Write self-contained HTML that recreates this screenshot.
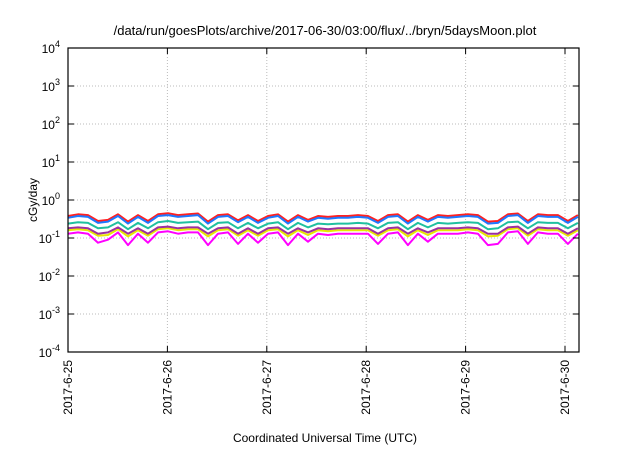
<!DOCTYPE html>
<html><head><meta charset="utf-8"><style>
body{margin:0;background:#fff;}
svg{font-family:"Liberation Sans",sans-serif;}
</style></head><body>
<svg id="c" width="640" height="448">
<text x="325" y="35" font-size="13" text-anchor="middle">/data/run/goesPlots/archive/2017-06-30/03:00/flux/../bryn/5daysMoon.plot</text>
<text transform="translate(37,200) rotate(-90)" font-size="12" text-anchor="middle">cGy/day</text>
<text x="325" y="442" font-size="12" text-anchor="middle">Coordinated Universal Time (UTC)</text>
<g id="grid"></g><g id="series"></g><g id="axes"></g>
</svg>
<script>
const xLabels=["2017-6-25","2017-6-26","2017-6-27","2017-6-28","2017-6-29","2017-6-30"];
const yExp=[-4,-3,-2,-1,0,1,2,3,4];
const red=[0.38,0.42,0.40,0.28,0.30,0.42,0.27,0.40,0.28,0.42,0.45,0.40,0.42,0.44,0.27,0.40,0.42,0.29,0.40,0.28,0.38,0.42,0.27,0.40,0.30,0.38,0.36,0.38,0.38,0.40,0.38,0.28,0.40,0.42,0.27,0.40,0.30,0.40,0.38,0.40,0.42,0.40,0.27,0.28,0.42,0.44,0.28,0.42,0.40,0.40,0.28,0.40];
const blue=[0.34,0.38,0.36,0.25,0.27,0.38,0.24,0.36,0.25,0.38,0.40,0.36,0.38,0.40,0.24,0.36,0.38,0.26,0.36,0.25,0.34,0.38,0.24,0.36,0.27,0.34,0.32,0.34,0.34,0.36,0.34,0.25,0.36,0.38,0.24,0.36,0.27,0.36,0.34,0.36,0.38,0.36,0.24,0.25,0.38,0.40,0.25,0.38,0.36,0.36,0.25,0.36];
const teal=[0.24,0.26,0.25,0.18,0.19,0.26,0.17,0.25,0.18,0.26,0.28,0.25,0.26,0.27,0.17,0.25,0.26,0.18,0.25,0.18,0.24,0.26,0.17,0.25,0.19,0.24,0.23,0.24,0.24,0.25,0.24,0.18,0.25,0.26,0.17,0.25,0.19,0.25,0.24,0.25,0.26,0.25,0.17,0.18,0.26,0.27,0.18,0.26,0.25,0.25,0.18,0.25];
const purple=[0.18,0.19,0.18,0.13,0.14,0.19,0.13,0.18,0.13,0.19,0.20,0.18,0.19,0.19,0.13,0.18,0.19,0.13,0.18,0.13,0.18,0.19,0.13,0.18,0.14,0.18,0.17,0.18,0.18,0.18,0.18,0.13,0.18,0.19,0.13,0.18,0.14,0.18,0.18,0.18,0.19,0.18,0.13,0.13,0.19,0.20,0.13,0.19,0.18,0.18,0.13,0.18];
const yellow=[0.16,0.17,0.16,0.115,0.12,0.17,0.11,0.16,0.115,0.17,0.18,0.16,0.17,0.17,0.11,0.16,0.17,0.115,0.16,0.115,0.16,0.17,0.11,0.16,0.12,0.16,0.15,0.16,0.16,0.16,0.16,0.115,0.16,0.17,0.11,0.16,0.12,0.16,0.16,0.16,0.17,0.16,0.11,0.115,0.17,0.18,0.115,0.17,0.16,0.16,0.115,0.16];
const magenta=[0.13,0.14,0.13,0.075,0.09,0.14,0.065,0.13,0.075,0.14,0.15,0.13,0.14,0.14,0.065,0.13,0.14,0.07,0.13,0.075,0.13,0.14,0.065,0.13,0.08,0.13,0.12,0.13,0.13,0.13,0.13,0.07,0.13,0.14,0.065,0.13,0.08,0.13,0.13,0.13,0.14,0.13,0.065,0.07,0.14,0.15,0.07,0.14,0.13,0.13,0.07,0.13];
const seriesList=[["magenta-series",magenta,"#ff00ff"],["yellow-series",yellow,"#e8e800"],["purple-series",purple,"#9b30a0"],["teal-series",teal,"#20c0a0"],["red-series",red,"#ff2020"],["blue-series",blue,"#1e78ff"]];
const L=68,R=579,T=48,B=352,NS="http://www.w3.org/2000/svg";
const sx=d=>L+d*99.4;
const sy=v=>T+(4-Math.log10(v))*38;
function mk(tag,a,p){const e=document.createElementNS(NS,tag);for(const k in a)e.setAttribute(k,a[k]);p.appendChild(e);return e;}
const grid=document.getElementById('grid'),axes=document.getElementById('axes'),ser=document.getElementById('series');
yExp.forEach(e=>{const y=T+(4-e)*38;
 if(e>-4&&e<4){const g=mk('line',{x1:L,x2:R,y1:y,y2:y,stroke:'#bbb','stroke-dasharray':'1,2'},grid);
 
 }
 mk('line',{x1:L,x2:L+6,y1:y,y2:y,stroke:'#000'},axes);mk('line',{x1:R,x2:R-6,y1:y,y2:y,stroke:'#000'},axes);
 const t=mk('text',{x:L-8,y:y+5,'font-size':'12','text-anchor':'end'},axes);
 
 
 t.innerHTML='10<tspan dy="-6" font-size="9">'+e+'</tspan>';});
xLabels.forEach((lab,i)=>{const x=sx(i);
 if(i>0){const g=mk('line',{x1:x,x2:x,y1:T,y2:B,stroke:'#bbb','stroke-dasharray':'1,2'},grid);
 
 }
 mk('line',{x1:x,x2:x,y1:B,y2:B-6,stroke:'#000'},axes);mk('line',{x1:x,x2:x,y1:T,y2:T+6,stroke:'#000'},axes);
 const t=mk('text',{transform:`translate(${x+4},${B+8}) rotate(-90)`,'font-size':'12','text-anchor':'end'},axes);
 
 
 t.textContent=lab;});
const fr=mk('rect',{x:L,y:T,width:R-L,height:B-T,fill:'none',stroke:'#000','stroke-width':'1.2'},axes);


seriesList.forEach(([name,arr,col])=>{
 const n=arr.length;const pts=arr.map((v,i)=>sx(i*5.13/(n-1)).toFixed(1)+','+sy(v).toFixed(1)).join(' ');
 const p=mk('polyline',{points:pts,fill:'none',stroke:col,'stroke-width':'2','stroke-linejoin':'round'},ser);
 
 });
</script>
</body></html>
